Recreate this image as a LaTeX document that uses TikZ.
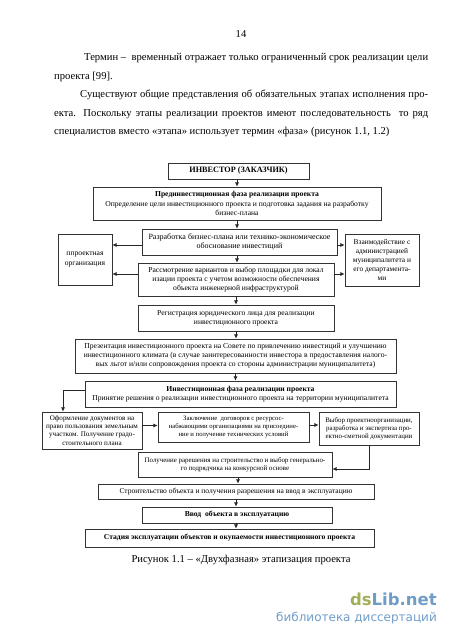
\documentclass[tikz,border=0pt]{standalone}
\usepackage{fontspec}
\setmainfont{Liberation Serif}
\newfontfamily\wmfont{DejaVu Sans}
\usetikzlibrary{arrows.meta}
\definecolor{wmblue}{HTML}{6F9DC8}
\definecolor{wmgreen}{HTML}{A3AE5A}
\tikzset{
  flowbox/.style={draw=black!80,line width=0.8pt,fill=white,inner sep=0pt,align=center,font=\fontsize{7.6}{9.2}\selectfont},
  smallbox/.style={flowbox,font=\fontsize{6.9}{8.1}\selectfont},
  arr/.style={draw=black!85,line width=0.8pt,-{Latex[length=4.2pt,width=4.2pt]}},
  body/.style={inner sep=0pt,anchor=base west,font=\fontsize{10.6}{14}\selectfont},
}
\newcommand{\jline}[2]{\makebox[#1pt][s]{#2}}
\begin{document}
\begin{tikzpicture}[x=1pt,y=-1pt]
\useasboundingbox (0,0) rectangle (450,637);
% page text
\node[inner sep=0pt,anchor=base,font=\fontsize{10.6}{14}\selectfont] (pg) at (241,37) {14};
\node[body] (l1) at (84,60) {\jline{344}{Термин – \ временный отражает только ограниченный срок реализации цели}};
\node[body] (l2) at (54,79) {проекта [99].};
\node[body] (l3) at (80,97) {\jline{348}{Существуют общие представления об обязательных этапах исполнения про-}};
\node[body] (l4) at (54,116) {\jline{374}{екта. Поскольку этапы реализации проектов имеют последовательность \ то ряд}};
\node[body] (l5) at (54,134) {специалистов вместо «этапа» использует термин «фаза» (рисунок 1.1, 1.2)};
% boxes
\node[flowbox,font=\fontsize{8.2}{10}\selectfont,minimum width=141pt,minimum height=16pt] (inv) at (238.5,171) {\textbf{ИНВЕСТОР (ЗАКАЗЧИК)}};
\node[flowbox,minimum width=288pt,minimum height=33pt] (pre) at (237,203.5) {\textbf{Прединвестиционная фаза реализации проекта}\\Определение цели инвестиционного проекта и подготовка задания на разработку\\бизнес-плана};
\node[flowbox,font=\fontsize{8}{9.2}\selectfont,minimum width=195pt,minimum height=26pt] (razr) at (239.5,242) {Разработка бизнес-плана или технико-экономическое\\обоснование инвестиций};
\node[flowbox,minimum width=54pt,minimum height=51pt] (proj) at (85,259.5) {ппроектная\\организация};
\node[flowbox,font=\fontsize{7.4}{9.2}\selectfont,minimum width=74pt,minimum height=52pt] (vz) at (382,260) {Взаимодействие с\\администрацией\\муниципалитета и\\его департамента-\\ми};
\node[flowbox,minimum width=196pt,minimum height=33pt] (ras) at (236,279.5) {Рассмотрение вариантов и выбор площадки для локал\\изации проекта с учетом возможности обеспечения\\объекта инженерной инфраструктурой};
\node[flowbox,minimum width=196pt,minimum height=26pt] (reg) at (236,318) {Регистрация юридического лица для реализации\\инвестиционного проекта};
\node[flowbox,minimum width=321pt,minimum height=34pt] (prez) at (235.5,356) {Презентация инвестиционного проекта на Совете по привлечению инвестиций и улучшению\\инвестиционного климата (в случае заинтересованности инвестора в предоставления налого-\\вых льгот и/или сопровождения проекта со стороны администрации муниципалитета)};
\node[flowbox,minimum width=311pt,minimum height=26pt] (fin) at (240.5,394) {\textbf{Инвестиционная фаза реализации проекта}\\Принятие решения о реализации инвестиционного проекта на территории муниципалитета};
\node[smallbox,font=\fontsize{7.1}{8.1}\selectfont,minimum width=100pt,minimum height=37pt] (of) at (92,430.5) {Оформление документов на\\право пользования земельным\\участком. Получение градо-\\стоительного плана};
\node[smallbox,font=\fontsize{6.7}{8.1}\selectfont,minimum width=151pt,minimum height=30pt] (zak) at (233.5,427) {Заключение \ договоров с ресурсос-\\набжающими организациями на присоедине-\\ние и получение технических условий};
\node[smallbox,minimum width=100pt,minimum height=33pt] (vyb) at (369,428.5) {Выбор проектноорганизации,\\разработка и экспертиза про-\\ектно-сметной документации};
\node[smallbox,minimum width=194pt,minimum height=25pt] (pol) at (235,464.5) {Получение рарешения на строительство и выбор генерально-\\го подрядчика на конкурсной основе};
\node[flowbox,font=\fontsize{7.5}{9}\selectfont,minimum width=276pt,minimum height=15pt] (str) at (236,491.5) {Строительство объекта и получения разрешения на ввод в эксплуатацию};
\node[flowbox,minimum width=190pt,minimum height=16pt] (vvod) at (237,515) {\textbf{Ввод \ объекта в эксплуатацию}};
\node[flowbox,minimum width=289pt,minimum height=18pt] (st) at (229.5,538) {\textbf{Стадия эксплуатации объектов и окупаемости инвестиционного проекта}};
\coordinate (elbow) at (63,390);
\coordinate (elbowb) at (369,469);
% connectors
\draw[arr] ([xshift=-1.5pt]inv.south) -- ([xshift=-1.5pt]inv.south |- pre.north);
\draw[arr] (pre.south) -- (pre.south |- razr.north);
\draw[arr] ([yshift=-3pt]razr.west) -- ([yshift=-3pt]razr.west -| proj.east);
\draw[arr] ([yshift=-3pt]razr.east) -- ([yshift=-3pt]razr.east -| vz.west);
\draw[arr] ([xshift=-2.5pt]razr.south) -- ([xshift=-2.5pt]razr.south |- ras.north);
\draw[arr] ([yshift=5.5pt]ras.west) -- ([yshift=5.5pt]ras.west -| proj.east);
\draw[arr] ([yshift=5.5pt]ras.east) -- ([yshift=5.5pt]ras.east -| vz.west);
\draw[arr] (ras.south) -- (ras.south |- reg.north);
\draw[arr] (reg.south) -- (reg.south |- prez.north);
\draw[arr] (prez.south) -- (prez.south |- fin.north);
\draw[arr] (fin.west |- elbow) -- (elbow) -- (elbow |- of.north);
\draw[arr] ([yshift=5pt]of.east) -- ([yshift=5pt]of.east -| zak.west);
\draw[arr] ([yshift=2pt]zak.east) -- ([yshift=2pt]zak.east -| vyb.west);
\draw[arr] (vyb.south) -- (elbowb) -- (pol.east |- elbowb);
\draw[arr] ([xshift=3pt]pol.south) -- ([xshift=3pt]pol.south |- str.north);
\draw[arr] (str.south) -- (str.south |- vvod.north);
\draw[arr] ([xshift=-1pt]vvod.south) -- ([xshift=-1pt]vvod.south |- st.north);
% caption
\node[inner sep=0pt,font=\fontsize{10.6}{13}\selectfont] (cap) at (241,560) {Рисунок 1.1 – «Двухфазная» этапизация проекта};
% watermark
\node[inner sep=0pt,anchor=base east,font=\wmfont\bfseries\fontsize{16.5}{18}\selectfont] (wm1) at (437,605) {\textcolor{wmgreen}{ds}\textcolor{wmblue}{Lib.net}};
\node[inner sep=0pt,anchor=base east,text=wmblue,font=\wmfont\fontsize{12}{14}\selectfont] (wm2) at (437,621) {библиотека диссертаций};
\end{tikzpicture}
\end{document}
